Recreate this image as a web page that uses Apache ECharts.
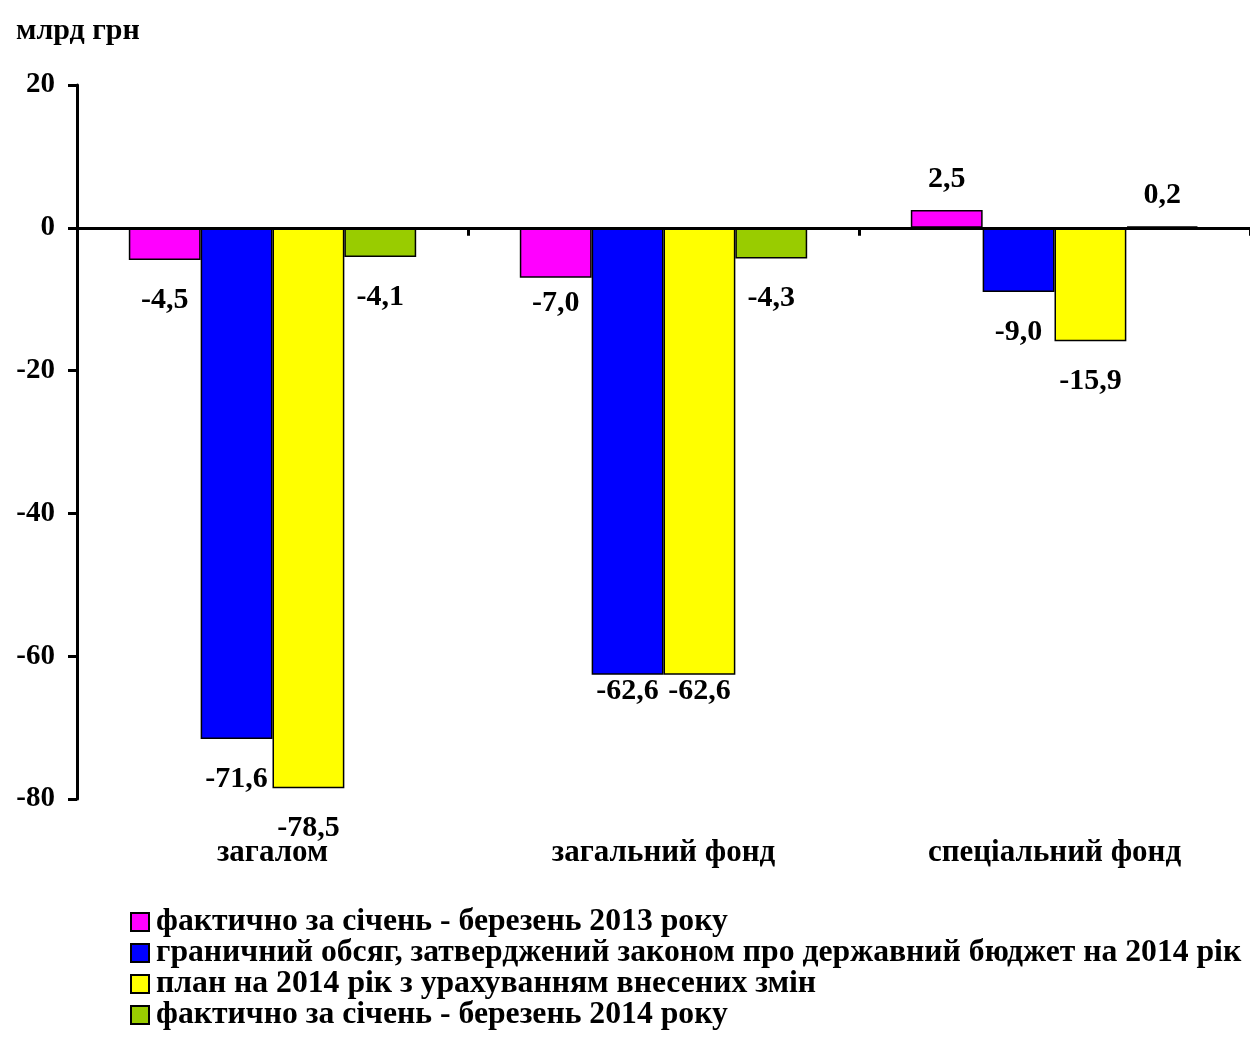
<!DOCTYPE html>
<html>
<head>
<meta charset="utf-8">
<script src="https://cdn.jsdelivr.net/npm/echarts@6/dist/echarts.min.js"></script>
<style>
  html, body { margin: 0; padding: 0; background: #fff; }
  #chart { width: 1250px; height: 1040px; }
</style>
</head>
<body>
<div id="chart"></div>
<script>
const categories = ['загалом', 'загальний фонд', 'спеціальний фонд']
const seriesNames = [
  'фактично за січень - березень 2013 року',
  'граничний обсяг, затверджений законом про державний бюджет на 2014 рік',
  'план на 2014 рік з урахуванням внесених змін',
  'фактично за січень - березень 2014 року'
]
const fact2013 = [-4.5, -7.0, 2.5]
const limit2014 = [-71.6, -62.6, -9.0]
const plan2014 = [-78.5, -62.6, -15.9]
const fact2014 = [-4.1, -4.3, 0.2]
const colors = ['#FF00FF', '#0000FF', '#FFFF00', '#99CC00']

const font = '"Liberation Serif", "DejaVu Serif", serif'
const fmt = v => v.toFixed(1).replace('.', ',')

// labels in the middle group sit closer to their bars
const closeLabels = { '0-1': 10, '1-1': 1, '2-1': 1 }

const makeSeries = (idx, values) => ({
  name: seriesNames[idx],
  type: 'bar',
  barGap: 0,
  barCategoryGap: '26.5%',
  itemStyle: { color: colors[idx], borderColor: '#000', borderWidth: 1.5 },
  label: {
    show: true,
    position: 'bottom',
    distance: 25,
    color: '#000',
    fontFamily: font,
    fontWeight: 'bold',
    fontSize: 30,
    formatter: p => fmt(p.value)
  },
  data: values.map((v, i) => {
    if (v >= 0) return { value: v, label: { position: 'top', distance: 16 } }
    const d = closeLabels[idx + '-' + i]
    return d !== undefined ? { value: v, label: { distance: d } } : v
  })
})

const series = [
  makeSeries(0, fact2013),
  makeSeries(1, limit2014),
  makeSeries(2, plan2014),
  makeSeries(3, fact2014)
]

const chart = echarts.init(document.getElementById('chart'))
chart.setOption({
  animation: false,
  backgroundColor: '#fff',
  title: {
    text: 'млрд грн',
    left: 11, top: 11,
    textStyle: { fontFamily: font, fontWeight: 'bold', fontSize: 30, color: '#000' }
  },
  grid: { left: 77, right: 0, top: 85, bottom: 241, containLabel: false },
  legend: {
    orient: 'vertical',
    left: 125, top: 901,
    height: 300,
    itemWidth: 18, itemHeight: 18,
    itemGap: -1,
    icon: 'rect',
    textStyle: {
      fontFamily: font, fontWeight: 'bold', fontSize: 31.7,
      color: '#000', padding: [0, 0, 0, 2]
    },
    data: seriesNames
  },
  xAxis: [
    {
      type: 'category',
      data: categories,
      position: 'bottom',
      axisLine: { show: false, onZero: false },
      axisTick: { show: false },
      axisLabel: {
        margin: 38, color: '#000',
        fontFamily: font, fontWeight: 'bold', fontSize: 31
      }
    },
    {
      type: 'category',
      data: categories,
      position: 'top',
      z: 5,
      axisLine: { show: true, onZero: true, lineStyle: { color: '#000', width: 3 } },
      axisTick: { show: true, inside: true, length: 8, lineStyle: { color: '#000', width: 3 } },
      axisLabel: { show: false }
    }
  ],
  yAxis: {
    type: 'value',
    min: -80, max: 20, interval: 20,
    axisLine: { show: true, lineStyle: { color: '#000', width: 3 } },
    axisTick: { show: true, length: 9, lineStyle: { color: '#000', width: 3 } },
    splitLine: { show: false },
    axisLabel: {
      margin: 22, color: '#000',
      fontFamily: font, fontWeight: 'bold', fontSize: 29
    }
  },
  series
})
</script>
</body>
</html>
